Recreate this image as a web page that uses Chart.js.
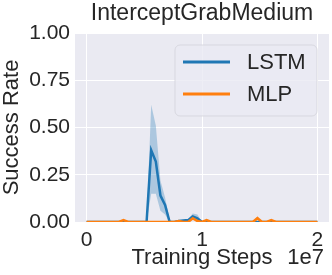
<!DOCTYPE html>
<html>
<head>
<meta charset="utf-8">
<script src="https://cdn.jsdelivr.net/npm/chart.js@4.4.0/dist/chart.umd.min.js"></script>
<style>
  html, body { margin: 0; padding: 0; background: #fff; }
  canvas { display: block; }
</style>
</head>
<body>
<canvas id="grafico" width="332" height="275"></canvas>
<script>
// passos de treino, em unidades de 1e7
const passos = [
  0, 0.04, 0.08, 0.12, 0.16, 0.2, 0.24, 0.28, 0.32, 0.36,
  0.4, 0.44, 0.48, 0.52, 0.56, 0.6, 0.64, 0.68, 0.72, 0.76,
  0.8, 0.84, 0.88, 0.92, 0.96, 1, 1.04, 1.08, 1.12, 1.16,
  1.2, 1.24, 1.28, 1.32, 1.36, 1.4, 1.44, 1.48, 1.52, 1.56,
  1.6, 1.64, 1.68, 1.72, 1.76, 1.8, 1.84, 1.88, 1.92, 1.96,
  2
];

const lstmMedia = [
  0, 0, 0, 0, 0, 0, 0, 0, 0, 0,
  0, 0, 0, 0, 0.38, 0.32, 0.14, 0.09, 0, 0,
  0.005, 0.008, 0.01, 0.03, 0.02, 0, 0, 0, 0, 0,
  0, 0, 0, 0, 0, 0, 0, 0, 0, 0,
  0, 0, 0, 0, 0, 0, 0, 0, 0, 0,
  0
];
const lstmAlto = [
  0, 0, 0, 0, 0, 0, 0, 0, 0, 0,
  0, 0, 0, 0, 0.62, 0.51, 0.22, 0.13, 0.01, 0,
  0.01, 0.012, 0.015, 0.045, 0.04, 0, 0, 0, 0, 0,
  0, 0, 0, 0, 0, 0, 0, 0, 0, 0,
  0, 0, 0, 0, 0, 0, 0, 0, 0, 0,
  0
];
const lstmBaixo = [
  0, 0, 0, 0, 0, 0, 0, 0, 0, 0,
  0, 0, 0, 0, 0.15, 0.15, 0.06, 0.04, 0, 0,
  0, 0.004, 0.005, 0.015, 0.005, 0, 0, 0, 0, 0,
  0, 0, 0, 0, 0, 0, 0, 0, 0, 0,
  0, 0, 0, 0, 0, 0, 0, 0, 0, 0,
  0
];

const mlpMedia = [
  0, 0, 0, 0, 0, 0, 0, 0, 0.01, 0,
  0, 0, 0, 0, 0, 0, 0, 0, 0, 0,
  0.005, 0, 0, 0.02, 0.005, 0, 0.01, 0, 0, 0,
  0, 0, 0, 0, 0, 0, 0, 0.02, 0, 0,
  0.01, 0, 0, 0, 0, 0, 0, 0, 0, 0,
  0
];
const mlpAlto = [
  0, 0, 0, 0, 0, 0, 0, 0, 0.015, 0,
  0, 0, 0, 0, 0, 0, 0, 0, 0, 0,
  0.008, 0, 0, 0.03, 0.008, 0, 0.015, 0, 0, 0,
  0, 0, 0, 0, 0, 0, 0, 0.03, 0, 0,
  0.015, 0, 0, 0, 0, 0, 0, 0, 0, 0,
  0
];
const mlpBaixo = [
  0, 0, 0, 0, 0, 0, 0, 0, 0.005, 0,
  0, 0, 0, 0, 0, 0, 0, 0, 0, 0,
  0, 0, 0, 0.01, 0, 0, 0.005, 0, 0, 0,
  0, 0, 0, 0, 0, 0, 0, 0.01, 0, 0,
  0.005, 0, 0, 0, 0, 0, 0, 0, 0, 0,
  0
];

const ticksX = [0, 1, 2];
const ticksY = [0, 0.25, 0.5, 0.75, 1];

const azul = '#1f77b4';
const laranja = '#ff7f0e';
const texto = '#262626';
const fonte = "'Liberation Sans', Arial, sans-serif";

const pontos = arr => arr.map((v, i) => ({ x: passos[i], y: v }));

// fundo do grafico (estilo seaborn)
const fundo = {
  id: 'fundo',
  beforeDraw(chart) {
    const { ctx, chartArea: a } = chart;
    ctx.save();
    ctx.fillStyle = '#eaeaf2';
    ctx.fillRect(a.left, a.top, a.right - a.left, a.bottom - a.top);
    ctx.restore();
  }
};

// titulo centrado na area, legenda dentro da area e rotulo 1e7
const extras = {
  id: 'extras',
  afterDraw(chart) {
    const { ctx, chartArea: a } = chart;
    ctx.save();
    ctx.fillStyle = texto;
    ctx.font = '23px ' + fonte;
    ctx.textAlign = 'center';
    ctx.textBaseline = 'middle';
    ctx.fillText('InterceptGrabMedium', (a.left + a.right) / 2, 14);

    const x = 175, y = 45, w = 142, h = 71, r = 5;
    ctx.beginPath();
    ctx.roundRect(x, y, w, h, r);
    ctx.fillStyle = 'rgba(234,234,242,0.8)';
    ctx.fill();
    ctx.strokeStyle = 'rgba(214,214,222,0.9)';
    ctx.lineWidth = 1;
    ctx.stroke();

    const itens = [['LSTM', azul, 62], ['MLP', laranja, 94]];
    ctx.font = '22px ' + fonte;
    ctx.textAlign = 'left';
    itens.forEach(([nome, cor, yy]) => {
      ctx.strokeStyle = cor;
      ctx.lineWidth = 3;
      ctx.beginPath();
      ctx.moveTo(183, yy);
      ctx.lineTo(230, yy);
      ctx.stroke();
      ctx.fillStyle = texto;
      ctx.fillText(nome, 247, yy + 1);
    });

    ctx.textAlign = 'right';
    ctx.fillText('1e7', 324, 258);
    ctx.restore();
  }
};

const banda = (dados, cor) => ({
  data: pontos(dados),
  borderWidth: 0,
  pointRadius: 0,
  backgroundColor: cor,
  order: 3
});

new Chart(document.getElementById('grafico'), {
  type: 'line',
  data: {
    datasets: [
      Object.assign(banda(lstmAlto, 'rgba(31,119,180,0.3)'), { fill: '+1' }),
      Object.assign(banda(lstmBaixo, 'rgba(31,119,180,0.3)'), { fill: false }),
      Object.assign(banda(mlpAlto, 'rgba(255,127,14,0.3)'), { fill: '+1' }),
      Object.assign(banda(mlpBaixo, 'rgba(255,127,14,0.3)'), { fill: false }),
      {
        label: 'LSTM',
        data: pontos(lstmMedia),
        borderColor: azul,
        borderWidth: 2.5,
        pointRadius: 0,
        fill: false,
        order: 2
      },
      {
        label: 'MLP',
        data: pontos(mlpMedia),
        borderColor: laranja,
        borderWidth: 2.5,
        pointRadius: 0,
        fill: false,
        order: 1
      }
    ]
  },
  options: {
    responsive: false,
    animation: false,
    layout: { padding: { right: 3, top: 33, bottom: 0, left: 0 } },
    scales: {
      x: {
        type: 'linear',
        min: -0.1,
        max: 2.1,
        afterFit: s => { s.height = 53; },
        afterBuildTicks: s => { s.ticks = ticksX.map(v => ({ value: v })); },
        border: { display: false },
        grid: { color: '#ffffff', lineWidth: 1, drawTicks: false, borderDash: [3, 1.5] },
        ticks: { color: texto, font: { family: fonte, size: 21 }, padding: 6, callback: v => v },
        title: {
          display: true,
          text: 'Training Steps',
          color: texto,
          font: { family: fonte, size: 22 },
          padding: { top: 0, bottom: 4 }
        }
      },
      y: {
        min: 0,
        max: 1,
        afterFit: s => { s.width = 75; },
        afterBuildTicks: s => { s.ticks = ticksY.map(v => ({ value: v })); },
        border: { display: false },
        grid: { color: '#ffffff', lineWidth: 1, drawTicks: false, borderDash: [3, 1.5] },
        ticks: { color: texto, font: { family: fonte, size: 21 }, padding: 5, callback: v => v.toFixed(2) },
        title: {
          display: true,
          text: 'Success Rate',
          color: texto,
          font: { family: fonte, size: 22, lineHeight: 1 },
          padding: { top: 1, bottom: 0 }
        }
      }
    },
    plugins: {
      legend: { display: false },
      tooltip: { enabled: false },
      title: { display: false }
    }
  },
  plugins: [fundo, extras]
});
</script>
</body>
</html>
